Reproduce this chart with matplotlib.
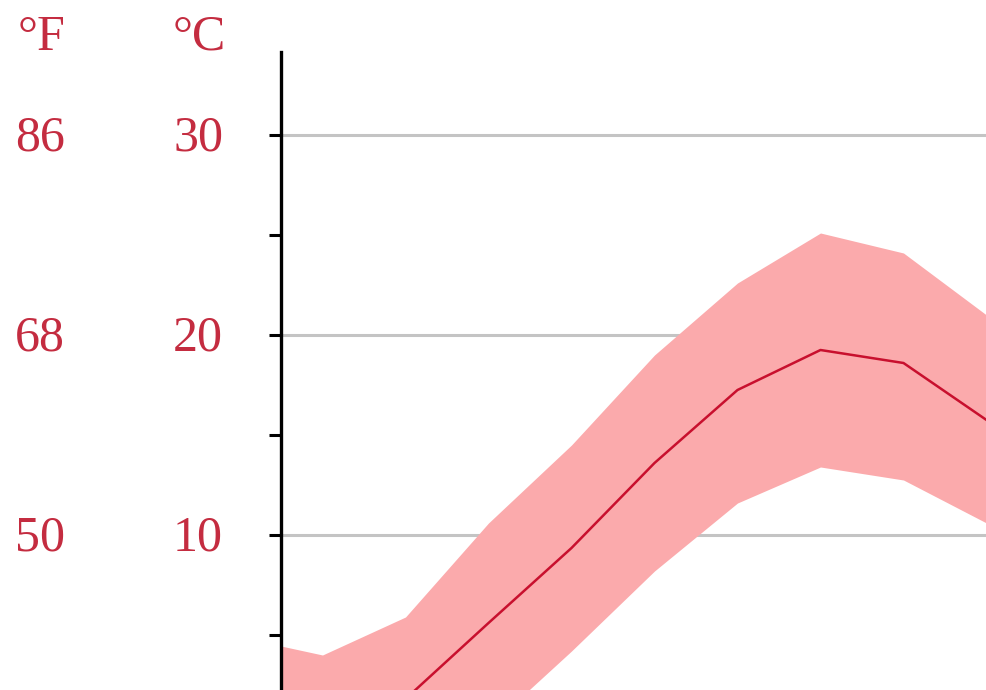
import matplotlib.pyplot as plt
import matplotlib.transforms as mtransforms
import numpy as np

# month index: previous Dec, then Jan..Sep (chart is cropped on the right)
months = ['Dec', 'Jan', 'Feb', 'Mar', 'Apr', 'May', 'Jun', 'Jul', 'Aug', 'Sep']
temp_mean = [0.4, -0.5, 1.8, 5.6, 9.35, 13.6, 17.25, 19.25, 18.6, 15.75]
temp_max = [4.9, 4.0, 5.9, 10.6, 14.5, 19.0, 22.6, 25.1, 24.1, 21.0]
temp_min = [-4.0, -5.0, -2.3, 0.4, 4.2, 8.2, 11.6, 13.4, 12.75, 10.6]

celsius_labels = [10, 20, 30]
fahrenheit_labels = [50, 68, 86]
minor_ticks = [5, 15, 25]

text_color = '#c42c40'
font = 'Liberation Serif'

fig = plt.figure(figsize=(9.86, 6.9), dpi=100)
ax = fig.add_axes([281 / 986, 0, 1 - 281 / 986, 1])

x = np.arange(len(months)) - 0.5
ax.fill_between(x, temp_min, temp_max, color='#fbaaac', linewidth=0, zorder=2)
ax.plot(x, temp_mean, color='#c8102e', linewidth=1.8, zorder=3)

for c in celsius_labels:
    ax.axhline(c, color='#c4c4c4', linewidth=2.2, zorder=1)

ax.set_xlim(0, 705 / 83)
ax.set_ylim(2.25, 36.75)

for s in ['top', 'right', 'bottom']:
    ax.spines[s].set_visible(False)
ax.spines['left'].set_linewidth(2.4)
ax.spines['left'].set_bounds(2.25, 34.15)
ax.spines['left'].set_zorder(4)

ax.set_xticks([])
ax.set_yticks(celsius_labels + minor_ticks)
ax.tick_params(axis='y', length=9, width=2.2, color='black', labelleft=False)

# labels: x in figure fraction, y in degrees C, baseline a bit below the gridline
trans = mtransforms.blended_transform_factory(fig.transFigure, ax.transData)
for c, f in zip(celsius_labels, fahrenheit_labels):
    fig.text(198 / 986, c - 0.78, str(c), transform=trans, ha='center', va='baseline',
             color=text_color, fontsize=36, family=font)
    fig.text(40 / 986, c - 0.78, str(f), transform=trans, ha='center', va='baseline',
             color=text_color, fontsize=36, family=font)

fig.text(41 / 986, 1 - 50 / 690, '°F', ha='center', va='baseline',
         color=text_color, fontsize=36, family=font)
fig.text(199 / 986, 1 - 50 / 690, '°C', ha='center', va='baseline',
         color=text_color, fontsize=36, family=font)

fig.savefig('out.png', dpi=100)
